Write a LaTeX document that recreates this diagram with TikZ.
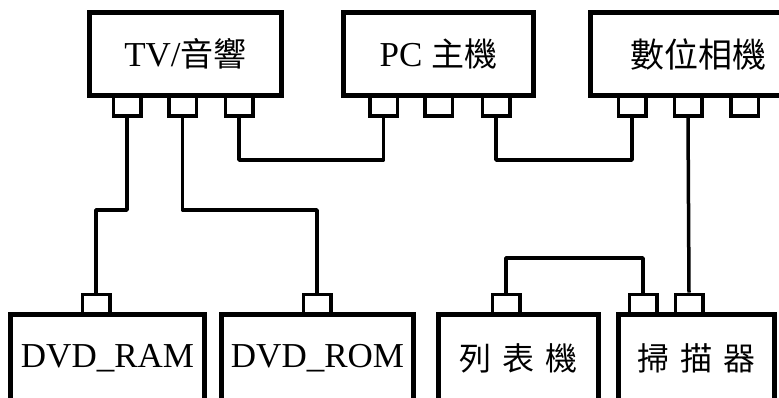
\documentclass[tikz,border=0pt]{standalone}
\usepackage{fontspec}
\setmainfont{Liberation Serif}
\newfontfamily\cjk{Noto Sans CJK TC}
\begin{document}
\begin{tikzpicture}[x=1pt,y=-1pt,
  dev/.style={draw,line width=5pt,fill=white,inner sep=0pt,font=\fontsize{35}{40}\selectfont},
  topdev/.style={dev,minimum height=83pt},
  botdev/.style={dev,minimum height=87pt},
  port/.style={draw,line width=3.5pt,fill=white,inner sep=0pt,minimum width=27.5pt,minimum height=20.5pt},
  wire/.style={line width=3.5pt,line join=round}]
\useasboundingbox (0,0) rectangle (779,397);
\clip (0,0) rectangle (779,397);
% ports of top devices
\node[port] (tv1) at (127,105.5) {};
\node[port] (tv2) at (182.5,105.5) {};
\node[port] (tv3) at (239,105.5) {};
\node[port] (pc1) at (383.5,105.5) {};
\node[port] (pc2) at (438.5,105.5) {};
\node[port] (pc3) at (496,105.5) {};
\node[port] (cam1) at (632,105.5) {};
\node[port] (cam2) at (688,105.5) {};
\node[port] (cam3) at (744.5,105.5) {};
% ports of bottom devices
\node[port] (ram) at (96,304.5) {};
\node[port] (rom) at (317,304.5) {};
\node[port] (prn) at (506,304.5) {};
\node[port] (scn1) at (643,304.5) {};
\node[port] (scn2) at (689,304.5) {};
% top devices
\node[topdev,minimum width=192pt] (tv) at (185.5,54) {TV/{\cjk\fontsize{33}{40}\selectfont 音響}};
\node[topdev,minimum width=190pt] (pc) at (438.5,54) {PC {\cjk\fontsize{33}{40}\selectfont 主機}};
\node[topdev,minimum width=215pt] (cam) at (698,54) {{\cjk\fontsize{34}{40}\selectfont 數位相機}};
% bottom devices
\node[botdev,minimum width=194pt] (dvdram) at (107.5,358) {DVD\_RAM};
\node[botdev,minimum width=192pt] (dvdrom) at (317.5,358) {DVD\_ROM};
\node[botdev,minimum width=160pt] (printer) at (518.5,358) {{\cjk\fontsize{32}{40}\selectfont 列\hspace{0.35em}表\hspace{0.35em}機}};
\node[botdev,minimum width=156pt] (scanner) at (696.5,358) {{\cjk\fontsize{32}{40}\selectfont 掃\hspace{0.35em}描\hspace{0.35em}器}};
% wires
\draw[wire] (tv1.south) -- (tv1.south |- 0,210) -| (ram.north);
\draw[wire] (tv2.south) -- (tv2.south |- 0,210) -| (rom.north);
\draw[wire] (tv3.south) -- (tv3.south |- 0,160) -| (pc1.south);
\draw[wire] (pc3.south) -- (pc3.south |- 0,160) -| (cam1.south);
\draw[wire] (cam2.south) -- (scn2.north);
\draw[wire] (prn.north) -- (prn.north |- 0,258) -| (scn1.north);
\end{tikzpicture}
\end{document}
